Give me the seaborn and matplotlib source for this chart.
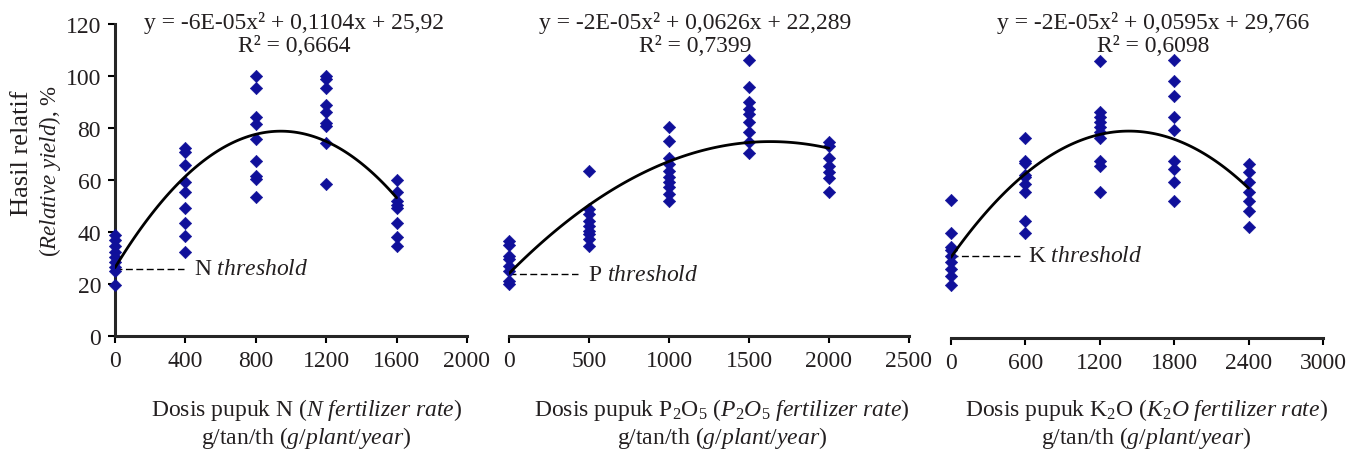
import matplotlib

matplotlib.use("Agg")
import matplotlib.pyplot as plt
import numpy as np
import pandas as pd
import seaborn as sns

# rates (g/plant/year) and relative yield (%)
N_RATES = [0, 400, 800, 1200, 1600]
N_YIELD = [
    [38.8, 37.1, 34.7, 32.2, 30.3, 28.3, 26.4, 25.1, 19.5],
    [72.2, 70.9, 65.9, 59.4, 55.3, 49.1, 43.5, 38.6, 32.4],
    [99.9, 95.3, 84.1, 81.5, 75.8, 67.2, 61.4, 60.4, 53.6],
    [99.9, 98.8, 95.3, 88.8, 86.3, 81.9, 80.6, 74.2, 58.5],
    [60, 55.3, 52.1, 50.4, 49.1, 43.5, 38.2, 34.7],
]
P_RATES = [0, 500, 1000, 1500, 2000]
P_YIELD = [
    [36.7, 35, 30.9, 29.6, 27.1, 25.1, 21.3, 20],
    [63.3, 48.8, 46.9, 44.4, 42.4, 40.5, 39.2, 37.3, 34.7],
    [80.3, 75.1, 68.3, 66.2, 63.6, 61, 59.4, 57.2, 54.6, 52.1],
    [106.2, 95.6, 90.1, 87.3, 85.4, 82.2, 78.6, 74.7, 70.4],
    [74.5, 73.2, 68.3, 65.5, 63.2, 60.6, 55.5],
]
K_RATES = [0, 600, 1200, 1800, 2400]
K_YIELD = [
    [53.1, 40.3, 34.9, 34, 31.7, 29.1, 26.5, 24, 20.4],
    [76.8, 68.2, 67.3, 62.8, 61.8, 59.2, 56, 45.1, 40.3],
    [106.7, 86.8, 84.9, 82.9, 81, 79.4, 76.8, 68.2, 66.3, 56.3],
    [107, 99, 93.2, 84.9, 80, 68.2, 65, 60.1, 52.8],
    [66.9, 63.7, 60.1, 56, 52.8, 49, 42.6],
]

N_XTICKS = [0, 400, 800, 1200, 1600, 2000]
P_XTICKS = [0, 500, 1000, 1500, 2000, 2500]
K_XTICKS = [0, 600, 1200, 1800, 2400, 3000]
Y_TICKS = [0, 20, 40, 60, 80, 100, 120]

EQUATIONS = [
    "y = -6E-05x² + 0,1104x + 25,92",
    "y = -2E-05x² + 0,0626x + 22,289",
    "y = -2E-05x² + 0,0595x + 29,766",
]
R2_LABELS = ["R² = 0,6664", "R² = 0,7399", "R² = 0,6098"]

THRESHOLD_LABELS = [r"N $\mathit{threshold}$", r"P $\mathit{threshold}$", r"K $\mathit{threshold}$"]
THRESHOLD_Y = [25.8, 23.8, 31.7]
THRESHOLD_END = [390, 430, 560]
THRESHOLD_TEXT_X = [450, 495, 620]

XLABELS_TOP = [
    r"Dosis pupuk N $\mathit{(N\ fertilizer\ rate)}$",
    r"Dosis pupuk P$_2$O$_5$ $\mathit{(P_2O_5\ fertilizer\ rate)}$",
    r"Dosis pupuk K$_2$O $\mathit{(K_2O\ fertilizer\ rate)}$",
]
XLABEL_BOTTOM = r"g/tan/th $\mathit{(g/plant/year)}$"

POINT_COLOR = "#10109a"
TEXT_COLOR = "#231f20"
W, H = 1356, 452


def build_frame(rates, yields):
    xs = np.repeat(rates, [len(v) for v in yields])
    ys = np.concatenate([np.asarray(v, dtype=float) for v in yields])
    return pd.DataFrame({"rate": xs, "yield": ys})


def draw_panel(ax, idx, rates, yields, xticks, show_y):
    df = build_frame(rates, yields)
    sns.scatterplot(data=df, x="rate", y="yield", marker="D", color=POINT_COLOR,
                    edgecolor=POINT_COLOR, linewidth=0.4, s=40, clip_on=False,
                    zorder=3, legend=False, ax=ax)
    sns.regplot(data=df, x="rate", y="yield", order=2, ci=None, scatter=False,
                line_kws={"color": "black", "lw": 2.0, "zorder": 4}, ax=ax)

    ax.plot([0, THRESHOLD_END[idx]], [THRESHOLD_Y[idx]] * 2, color="black",
            lw=1.0, ls=(0, (5, 2.5)), clip_on=False, zorder=2)
    ax.text(THRESHOLD_TEXT_X[idx], THRESHOLD_Y[idx], THRESHOLD_LABELS[idx],
            fontsize=17, va="center", ha="left", color=TEXT_COLOR)

    ax.set_xlim(xticks[0], xticks[-1])
    ax.set_ylim(0, 120)
    ax.set_xticks(xticks)
    ax.set_xlabel("")
    ax.set_ylabel("")
    ax.tick_params(axis="x", direction="out", length=5, width=1.5, pad=5, labelsize=17)
    ax.spines["bottom"].set_linewidth(2.2)
    ax.spines["top"].set_visible(False)
    ax.spines["right"].set_visible(False)
    if show_y:
        ax.set_yticks(Y_TICKS)
        ax.tick_params(axis="y", direction="out", length=5, width=1.5, pad=5, labelsize=17)
        ax.spines["left"].set_linewidth(2.2)
    else:
        ax.set_yticks([])
        ax.spines["left"].set_visible(False)


def main():
    sns.set_theme(style="ticks")
    plt.rcParams["font.family"] = ["Liberation Serif", "DejaVu Serif"]
    plt.rcParams["mathtext.fontset"] = "custom"
    plt.rcParams["mathtext.rm"] = "Liberation Serif"
    plt.rcParams["mathtext.it"] = "Liberation Serif:italic"
    plt.rcParams["mathtext.bf"] = "Liberation Serif:bold"
    plt.rcParams["text.color"] = TEXT_COLOR
    plt.rcParams["xtick.color"] = "black"
    plt.rcParams["ytick.color"] = "black"
    plt.rcParams["xtick.labelcolor"] = TEXT_COLOR
    plt.rcParams["ytick.labelcolor"] = TEXT_COLOR

    fig = plt.figure(figsize=(W / 100, H / 100), dpi=100)
    fig.patch.set_facecolor("white")

    # axes boxes in pixels: left, right, bottom, top
    boxes = [(115, 467, 337, 25), (509, 909, 337, 25), (951, 1323, 339, 27)]
    panels = [(N_RATES, N_YIELD, N_XTICKS), (P_RATES, P_YIELD, P_XTICKS), (K_RATES, K_YIELD, K_XTICKS)]
    eq_centers = [294, 695, 1153]
    xlabel_centers = [306, 722, 1146]

    for i, ((x0, x1, yb, yt), (rates, yields, xticks)) in enumerate(zip(boxes, panels)):
        ax = fig.add_axes([x0 / W, 1 - yb / H, (x1 - x0) / W, (yb - yt) / H])
        ax.set_facecolor("none")
        draw_panel(ax, i, rates, yields, xticks, show_y=(i == 0))

        fig.text(eq_centers[i] / W, 1 - 23 / H, EQUATIONS[i], fontsize=17, ha="center", va="center")
        fig.text(eq_centers[i] / W, 1 - 46 / H, R2_LABELS[i], fontsize=17, ha="center", va="center")
        fig.text(xlabel_centers[i] / W, 1 - 410 / H, XLABELS_TOP[i], fontsize=17, ha="center", va="center")
        fig.text(xlabel_centers[i] / W, 1 - 438 / H, XLABEL_BOTTOM, fontsize=17, ha="center", va="center")

    fig.text(22 / W, 1 - 153 / H, "Hasil relatif", fontsize=19, rotation=90, ha="center", va="center")
    fig.text(50 / W, 1 - 171 / H, r"($\mathit{Relative\ yield}$), %", fontsize=16.5,
             rotation=90, ha="center", va="center")

    fig.savefig("out.png", dpi=100, facecolor="white")
    plt.close(fig)


if __name__ == "__main__":
    main()
